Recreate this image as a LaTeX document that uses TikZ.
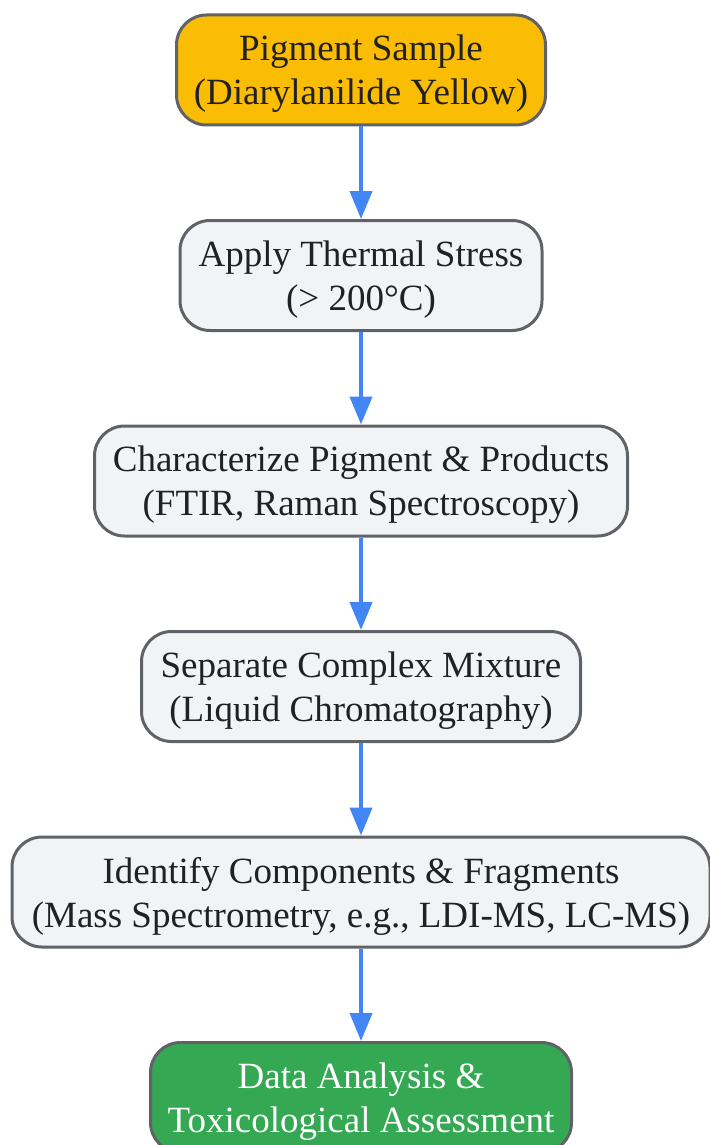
\documentclass[tikz,border=0pt]{standalone}
\usepackage{fontspec}
\setmainfont{Liberation Serif}
\usepackage{tikz}
\usetikzlibrary{positioning,arrows.meta}

\definecolor{boxgray}{HTML}{F1F3F4}
\definecolor{edgegray}{HTML}{5F6368}
\definecolor{sampleorange}{HTML}{FBBC04}
\definecolor{resultgreen}{HTML}{34A853}
\definecolor{flowblue}{HTML}{4285F4}
\definecolor{textdark}{HTML}{202124}

\tikzset{
  stepbox/.style={draw=edgegray, line width=3pt, fill=boxgray, rounded corners=30pt,
    minimum height=110pt, align=center, text=textdark, text depth=0pt,
    font=\fontsize{37}{44}\selectfont},
  flow/.style={draw=flowblue, line width=4pt, -{Triangle[length=28pt,width=22pt]}}
}

\begin{document}
\begin{tikzpicture}[node distance=92.5pt]
    \useasboundingbox (0,0) rectangle (709pt,-1145pt);
    \node[stepbox, fill=sampleorange, minimum width=369pt] (sample) at (361pt,-70pt)
        {Pigment Sample\\(Diarylanilide Yellow)};
    \node[stepbox, minimum width=362pt, below=of sample] (stress)
        {Apply Thermal Stress\\(> 200°C)};
    \node[stepbox, minimum width=533pt, below=of stress] (charact)
        {Characterize Pigment \& Products\\(FTIR, Raman Spectroscopy)};
    \node[stepbox, minimum width=439pt, below=of charact] (separate)
        {Separate Complex Mixture\\(Liquid Chromatography)};
    \node[stepbox, minimum width=698pt, below=of separate] (identify)
        {Identify Components \& Fragments\\(Mass Spectrometry, e.g., LDI-MS, LC-MS)};
    \node[stepbox, fill=resultgreen, text=white, minimum width=421pt, below=of identify] (analysis)
        {Data Analysis \&\\Toxicological Assessment};
    \draw[flow] (sample) -- (stress);
    \draw[flow] (stress) -- (charact);
    \draw[flow] (charact) -- (separate);
    \draw[flow] (separate) -- (identify);
    \draw[flow] (identify) -- (analysis);
\end{tikzpicture}
\end{document}
